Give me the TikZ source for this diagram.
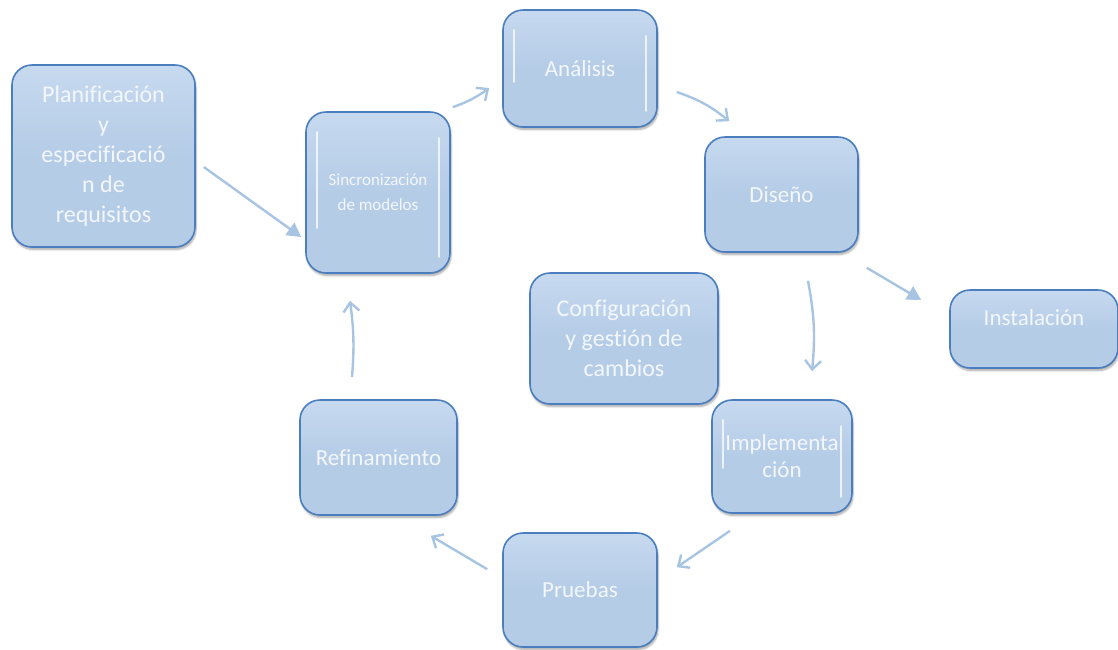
\documentclass[tikz,border=0pt]{standalone}
\usepackage{fontspec}
\setmainfont[Ligatures={NoCommon}]{Carlito}
\usetikzlibrary{arrows.meta,shadows.blur}

\definecolor{boxfill}{HTML}{B5CCE7}
\definecolor{boxtop}{HTML}{C6D9EF}
\definecolor{boxedge}{HTML}{4A7EBE}
\definecolor{boxtext}{HTML}{F3F7FC}
\definecolor{arrowblue}{HTML}{A8C4E3}

\tikzset{
  box/.style={draw=boxedge, line width=1.6pt, rounded corners=20pt,
    top color=boxtop, bottom color=boxfill, middle color=boxfill,
    text=boxtext, align=center, inner sep=2pt,
    font=\fontsize{23}{27}\selectfont,
    blur shadow={shadow xshift=1pt, shadow yshift=-2.5pt,
      shadow blur steps=6, shadow opacity=35}},
  gloss/.style={path picture={
    \draw[white, line width=1.8pt, line cap=round, opacity=0.75]
      ([shift={(11,20)}]path picture bounding box.north west) --
      ([shift={(11,-45)}]path picture bounding box.south west);
    \draw[white, line width=1.8pt, line cap=round, opacity=0.75]
      ([shift={(-11,26)}]path picture bounding box.north east) --
      ([shift={(-11,-16)}]path picture bounding box.south east);}},
  cyc/.style={draw=arrowblue, line width=2.4pt,
    -{Straight Barb[length=9pt, width=16pt, line width=2.4pt]}},
  feed/.style={draw=arrowblue, line width=2.4pt,
    -{Triangle[length=14pt, width=15pt]}},
}

\begin{document}
\begin{tikzpicture}[x=1pt, y=-1pt]
  \useasboundingbox (0,0) rectangle (1118,649);

  % process boxes
  \node[box, minimum width=183pt, minimum height=182pt,
        font=\fontsize{24}{30}\selectfont] (plan) at (103.5,156)
    {Planificación\\y\\especificació\\n de\\requisitos};
  \node[box, gloss, minimum width=144pt, minimum height=161pt,
        font=\fontsize{17}{25}\selectfont] (sinc) at (378,192.5)
    {Sincronización\\de modelos};
  \node[box, gloss, minimum width=154pt, minimum height=117pt] (analisis) at (580,68.5) {Análisis};
  \node[box, minimum width=153pt, minimum height=115pt] (diseno) at (781.5,194.5) {Diseño};
  \node[box, minimum width=168pt, minimum height=78pt, text depth=22pt] (instal) at (1034,329) {Instalación};
  \node[box, minimum width=188pt, minimum height=131pt,
        font=\fontsize{24}{30}\selectfont] (config) at (624,338.5)
    {Configuración\\y gestión de\\cambios};
  \node[box, gloss, minimum width=140pt, minimum height=113pt] (impl) at (782,456.5)
    {Implementa\\ción};
  \node[box, minimum width=154pt, minimum height=114pt] (pruebas) at (580,590) {Pruebas};
  \node[box, minimum width=157pt, minimum height=115pt] (refin) at (378.5,457.5) {Refinamiento};

  % straight feed arrows
  \draw[feed] ([shift={(8,11)}]plan.east) -- ([shift={(-4,44.5)}]sinc.west);
  \draw[feed] ([shift={(8,15)}]diseno.south east) -- ([shift={(-28,-29)}]instal.west);

  % iteration cycle
  \draw[cyc] ([shift={(2,-4)}]sinc.north east) to[bend right=8] ([shift={(-13,19.5)}]analisis.west);
  \draw[cyc] ([shift={(19,23.5)}]analisis.east) to[bend left=10] ([shift={(25,-15)}]diseno.north west);
  \draw[cyc] ([shift={(26.5,28)}]diseno.south) to[bend left=8] ([shift={(30,-28)}]impl.north);
  \draw[cyc] ([shift={(-52,17)}]impl.south) -- ([shift={(19,35)}]pruebas.north east);
  \draw[cyc] ([shift={(-15,37)}]pruebas.north west) -- ([shift={(-27,20)}]refin.south east);
  \draw[cyc] ([shift={(-26.5,-22)}]refin.north) to[bend right=6] ([shift={(-28,27)}]sinc.south);
\end{tikzpicture}
\end{document}
